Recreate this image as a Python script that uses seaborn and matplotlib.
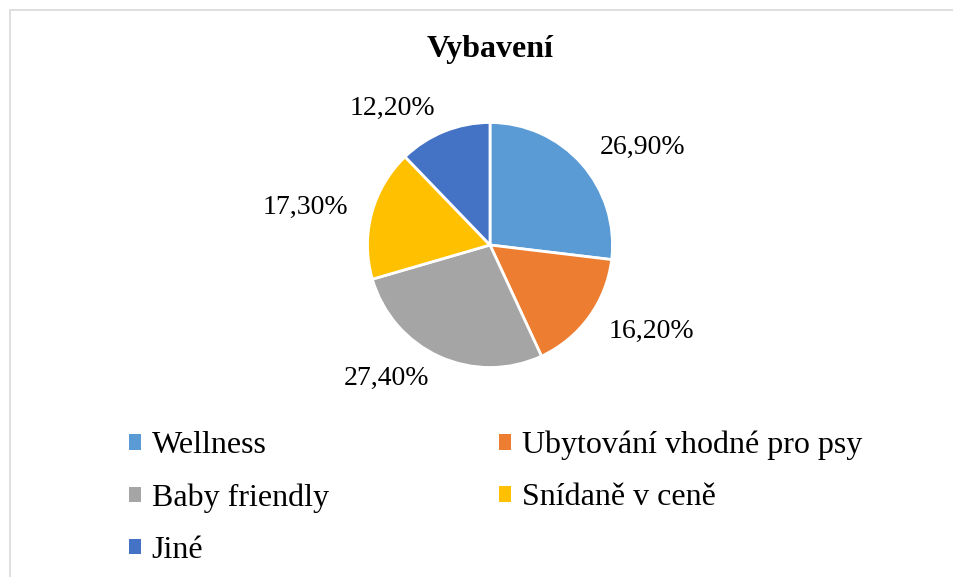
import numpy as np
import matplotlib
matplotlib.use("Agg")
import matplotlib.pyplot as plt
from matplotlib.patches import Rectangle, Patch
import seaborn as sns

# data
categories = ["Wellness", "Ubytování vhodné pro psy", "Baby friendly", "Snídaně v ceně", "Jiné"]
shares = [26.9, 16.2, 27.4, 17.3, 12.2]
colors = ["#5B9BD5", "#ED7D31", "#A5A5A5", "#FFC000", "#4472C4"]
title = "Vybavení"

sns.set_theme(style="white")
plt.rcParams["font.family"] = ["Liberation Serif", "DejaVu Serif"]
plt.rcParams["text.color"] = "black"

W, H = 954, 577
fig = plt.figure(figsize=(W / 100, H / 100), dpi=100)
fig.patch.set_facecolor("white")

# light frame of the chart area
fig.patches.append(Rectangle((10 / W, -0.1), 1.2, (H - 10) / H + 0.1, transform=fig.transFigure,
                             fill=False, edgecolor="#D9D9D9", lw=1.2))

# pie axes: centre (490, 245) px, radius ~122 px
side = 300
cx, cy = 490, H - 245
ax = fig.add_axes([(cx - side / 2) / W, (cy - side / 2) / H, side / W, side / H])
pal = sns.color_palette(colors)
pct_labels = [f"{v:.2f}%".replace(".", ",") for v in shares]
wedges, texts = ax.pie(
    shares, colors=pal, startangle=90, counterclock=False,
    labels=pct_labels, labeldistance=1.2,
    wedgeprops=dict(edgecolor="white", linewidth=2),
    textprops=dict(fontsize=20, color="black"),
)
lim = (side / 2) / 122.5
ax.set_xlim(-lim, lim)
ax.set_ylim(-lim, lim)
ax.set_aspect("equal")
ax.axis("off")
for t in texts:
    t.set_clip_on(False)

fig.text(490 / W, 1 - 50 / H, title, ha="center", va="center", fontsize=23,
         fontweight="bold", color="black")

# row-major legend order: matplotlib fills columns first
order = [0, 2, 4, 1, 3]
handles = [Patch(facecolor=pal[i], edgecolor="none") for i in order]
leg = fig.legend(handles, [categories[i] for i in order], ncol=2, loc="upper left",
                 bbox_to_anchor=(100 / W, 1 - 402 / H), frameon=False, fontsize=23,
                 handlelength=0.37, handleheight=0.37, handletextpad=0.35,
                 columnspacing=5.33, labelspacing=0.72)
for t in leg.get_texts():
    t.set_color("black")

fig.savefig("out.png", dpi=100)
